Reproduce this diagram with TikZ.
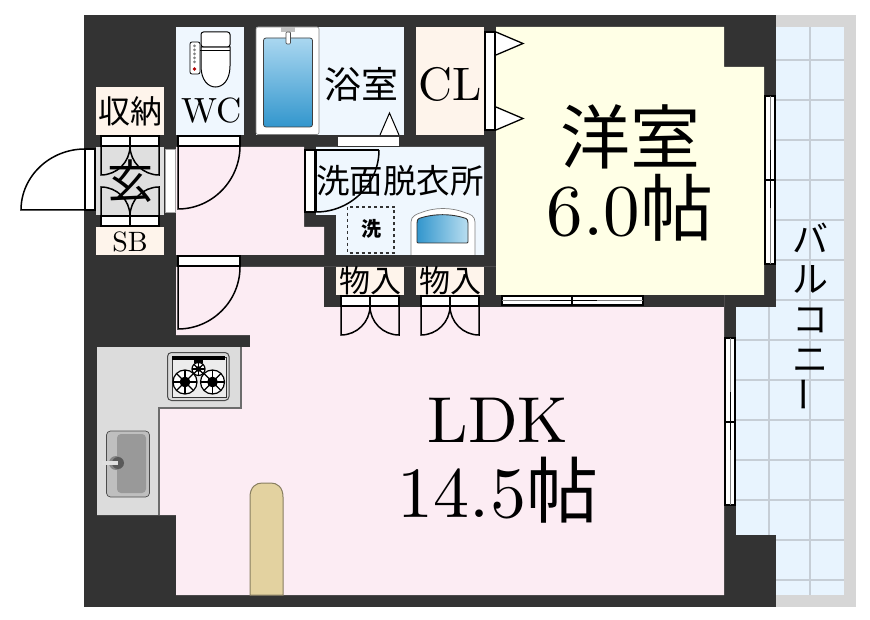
\documentclass[tikz,border=0pt]{standalone}
\usepackage{fontspec}
\usepackage{xcolor}
\usepackage{tikz}
\usetikzlibrary{calc}
\setmainfont{lmroman10-regular.otf}
\newfontfamily\jpfont{Noto Sans CJK JP}
\definecolor{wallgray}{RGB}{51,51,51}
\definecolor{ldkpink}{RGB}{252,236,243}
\definecolor{wetblue}{RGB}{239,247,254}
\definecolor{closetcream}{RGB}{254,244,235}
\definecolor{roomyellow}{RGB}{255,255,230}
\definecolor{balconyblue}{RGB}{232,244,254}
\definecolor{balconygray}{RGB}{214,214,214}
\definecolor{gridgray}{RGB}{198,206,214}
\definecolor{kitchengray}{RGB}{220,220,220}
\definecolor{countertan}{RGB}{227,210,160}
\definecolor{tubtop}{RGB}{170,215,240}
\definecolor{tubbottom}{RGB}{50,150,205}
\definecolor{basinlight}{RGB}{185,222,240}
\newcommand{\doorleaf}[3]{\draw[leafline] (#1) -- (#2) .. controls ($(#2)+0.55*(#3)-0.55*(#1)$) and ($(#3)+0.55*(#2)-0.55*(#1)$) .. (#3);}
\newcommand{\burner}[3]{%
  \draw[black, fill=white, line width=1.2pt] (#1,#2) circle (#3);
  \foreach \a in {0,45,...,315} \draw[black, line width=1.2pt] (#1,#2) -- ++(\a:#3);
  \fill[black] (#1,#2) circle (0.45*#3);
}
\newcommand{\txt}[1]{\fontsize{#1}{#1}\selectfont}

\begin{document}
\begin{tikzpicture}[
    x=1pt, y=-1pt,
    wall/.style={fill=wallgray},
    frame/.style={draw=black, fill=white, line width=1.6pt},
    thinframe/.style={draw=gray!70, fill=white, line width=0.5pt},
    leafline/.style={draw=black, line width=1.5pt},
    jplabel/.style={inner sep=0pt, font=\jpfont},
    enlabel/.style={inner sep=0pt},
    gridline/.style={gridgray, line width=2.5pt}
]
    \useasboundingbox (0,0) rectangle (870,620);

    % walls and balcony
    \fill[wall] (84,15) rectangle (776,607);
    \fill[balconygray] (776,15) rectangle (856,607);
    \fill[balconyblue] (776,27) rectangle (844,595);
    \fill[balconyblue] (736,307) rectangle (776,535);
    \foreach \y in {60,100,...,580} \draw[gridline] (776,\y) -- (844,\y);
    \foreach \y in {340,380,420,460,500} \draw[gridline] (736,\y) -- (776,\y);
    \draw[gridline] (810,27) -- (810,595);
    \draw[gridline] (769,307) -- (769,535);

    % rooms
    \fill[ldkpink] (176,267) -- (724,267) -- (724,595) -- (176,595) -- (176,515) -- (159,515) -- (159,408)
        -- (241,408) -- (241,347) -- (250,347) -- (250,335) -- (176,335) -- cycle;
    \fill[wall] (324,267) rectangle (496,307);
    \fill[wall] (496,295) rectangle (724,307);
    \fill[ldkpink] (176,147) -- (304,147) -- (304,227) -- (324,227) -- (324,255) -- (176,255) -- cycle;
    \fill[roomyellow] (496,27) -- (724,27) -- (724,67) -- (764,67) -- (764,295) -- (496,295) -- cycle;
    \fill[wetblue] (176,27) rectangle (244,135);
    \fill[wetblue] (256,27) rectangle (404,135);
    \fill[wetblue] (316,147) -- (484,147) -- (484,255) -- (336,255) -- (336,215) -- (316,215) -- cycle;
    \fill[closetcream] (416,27) rectangle (484,135);
    \fill[closetcream] (96,87) rectangle (164,135);
    \fill[closetcream] (96,227) rectangle (164,255);
    \fill[closetcream] (336,267) rectangle (404,295);
    \fill[closetcream] (416,267) rectangle (484,295);
    \fill[gray!25] (96,147) rectangle (164,215);

    % kitchen
    \fill[kitchengray] (97,347) -- (241,347) -- (241,408) -- (159,408) -- (159,515) -- (97,515) -- cycle;
    \draw[gray!85!black, line width=1.6pt] (241,347) -- (241,408) -- (159,408) -- (159,515);
    \draw[black!70, fill=gray!30, line width=1pt, rounded corners=4pt] (167.5,352.5) rectangle (229,400.5);
    \draw[black!80, fill=gray!15, line width=0.8pt] (172,357) rectangle (226,397);
    \fill[black] (172,356) rectangle (225,360);
    \fill[black] (194,360) rectangle (203,362.5);
    \burner{185}{382}{12}
    \burner{212.5}{382}{12}
    \burner{198.5}{369}{6.5}
    \draw[gray!60!black, fill=gray!50, line width=0.7pt, rounded corners=4pt] (106.5,431) rectangle (149.5,497);
    \fill[gray!80, rounded corners=4pt] (117,434) rectangle (146,493);
    \fill[gray!105!black] (116,463) circle (7);
    \fill[black!65] (118,463) circle (6);
    \draw[gray!25, line width=3.5pt] (102,463) -- (118,463);

    % counter
    \draw[countertan!60!black, fill=countertan, line width=1pt] (250,595) -- (250,497) .. controls (250,487) and (256,483) .. (262,483)
        -- (271,483) .. controls (277,483) and (283,487) .. (283,497) -- (283,595) -- cycle;

    % toilet
    \draw[black, fill=white, line width=0.8pt, rounded corners=2pt] (190,42) rectangle (200,74);
    \foreach \y in {46,50,...,64} \fill[gray] (194.5,\y) circle (1.5);
    \fill[red!70!black] (194.5,69) circle (1.8);
    \draw[black, fill=white, line width=1pt] (201,47) -- (201,66) .. controls (201,80) and (208,87) .. (215.5,87)
        .. controls (223,87) and (230,80) .. (230,66) -- (230,47) -- cycle;
    \draw[black, line width=0.7pt] (200,50) -- (230,50);
    \draw[black, fill=white, line width=1pt, rounded corners=2.5pt] (201,32) rectangle (230,47);

    % bath
    \draw[gray, fill=white, line width=0.6pt, rounded corners=2pt] (256,27) rectangle (319,134.5);
    \draw[black!75, top color=tubtop, bottom color=tubbottom, line width=0.8pt, rounded corners=2.5pt] (263.5,38) rectangle (312.5,127);
    \fill[gray!50] (281,27) rectangle (295,32);
    \draw[black!70, fill=white, line width=0.7pt, rounded corners=1pt] (286,32) rectangle (290.5,44);
    \draw[thinframe, draw=wallgray] (337,136) rectangle (399,146);
    \draw[leafline, fill=white, line width=1pt] (380,135) -- (389.5,113) -- (399,135);

    % washroom fittings
    \draw[wallgray, line width=1.3pt, dashed] (347.5,207) rectangle (394,253);
    \draw[gray, fill=white, line width=0.7pt] (411,255) -- (411,222) .. controls (411,216) and (417,214) .. (420,213)
        .. controls (435,207) and (451,207) .. (466,213) .. controls (470,214) and (475,216) .. (475,222) -- (475,255);
    \draw[black!80, left color=tubbottom, right color=basinlight, line width=0.9pt, rounded corners=1pt]
        (417,243) -- (417,224) .. controls (417,218) and (420,218) .. (424,217)
        .. controls (436,214) and (449,214) .. (461,217) .. controls (465,218) and (468,218) .. (468,224) -- (468,243) -- cycle;

    % door frames
    \draw[frame] (85,149) rectangle (95,210);
    \draw[thinframe] (165,149) rectangle (175,212);
    \draw[frame] (305,150) rectangle (315,212);
    \draw[frame] (178,136) rectangle (240,146);
    \draw[frame] (178,256) rectangle (240,266);
    \draw[frame] (485,32) rectangle (495,130);
    \foreach \x in {101} {
        \draw[frame] (\x,136) rectangle (\x+58,146);
        \draw[frame] (\x,216) rectangle (\x+58,226);
        \draw[leafline] (\x+29,136) -- (\x+29,146);
        \draw[leafline] (\x+29,216) -- (\x+29,226);
    }
    \foreach \x in {341,421} {
        \draw[frame] (\x,296) rectangle (\x+58,306);
        \draw[leafline] (\x+29,296) -- (\x+29,306);
        \doorleaf{\x,306}{\x,335}{\x+29,306}
        \doorleaf{\x+58,306}{\x+58,335}{\x+29,306}
    }

    % door leaves
    \doorleaf{85,210}{21,210}{85,149}
    \doorleaf{178,146}{178,209}{240,146}
    \doorleaf{178,267}{178,329}{240,267}
    \draw[leafline] (316,150) -- (379,150);
    \doorleaf{316,150}{316,212}{379,150}
    \doorleaf{101,146}{101,175}{130,146}
    \doorleaf{159,146}{159,175}{130,146}
    \doorleaf{101,216}{101,187}{130,216}
    \doorleaf{159,216}{159,187}{130,216}
    \foreach \y in {32,107} \draw[frame, line width=1.3pt] (496,\y) -- (523,\y+11.5) -- (496,\y+23);

    % windows
    \draw[frame] (502,296) rectangle (643,305);
    \draw[gray, line width=0.6pt] (502,300.5) -- (643,300.5);
    \draw[black, line width=0.9pt] (550,300.5) -- (597,300.5);
    \draw[black, line width=1.2pt] (572,296) -- (572,305);
    \draw[frame] (765,96) rectangle (775,264);
    \draw[gray, line width=0.6pt] (770,96) -- (770,264);
    \draw[black, line width=0.9pt] (770,150) -- (770,208);
    \draw[black, line width=1.2pt] (765,180) -- (775,180);
    \draw[frame] (725,338) rectangle (735,505);
    \draw[gray, line width=0.6pt] (730,338) -- (730,505);
    \draw[black, line width=0.9pt] (730,392) -- (730,450);
    \draw[black, line width=1.2pt] (725,422) -- (735,422);

    % labels
    \node[jplabel] (genkan) at (130,181) {\txt{46}玄};
    \node[jplabel] (shuno) at (130,111) {\txt{32}収納};
    \node[enlabel] (sb) at (130,242) {\txt{28}SB};
    \node[enlabel] (wc) at (212,111) {\txt{35}WC};
    \node[jplabel] (yokushitsu) at (361,84) {\txt{37}浴室};
    \node[enlabel] (cl) at (450,84) {\txt{47}CL};
    \node[jplabel] (senmen) at (400,181) {\txt{33.5}洗面脱衣所};
    \node[jplabel] (sentaku) at (371,229) {\txt{20}\bfseries 洗};
    \node[jplabel] (mono1) at (370,281) {\txt{31}物入};
    \node[jplabel] (mono2) at (450,281) {\txt{31}物入};
    \node[jplabel] (yoshitsu) at (630,137) {\txt{70}洋室};
    \node[enlabel] (size1) at (630,208) {\txt{73}6.0{\jpfont 帖}};
    \node[enlabel] (ldk) at (498,420) {\txt{65}LDK};
    \node[enlabel] (size2) at (498,490) {\txt{72}14.5{\jpfont 帖}};
    \node[inner sep=0pt, align=center, font=\jpfont\fontsize{36}{40}\selectfont] (balcony) at (810,318) {バ\\ル\\コ\\ニ\\\rotatebox{90}{ー}};
\end{tikzpicture}
\end{document}
